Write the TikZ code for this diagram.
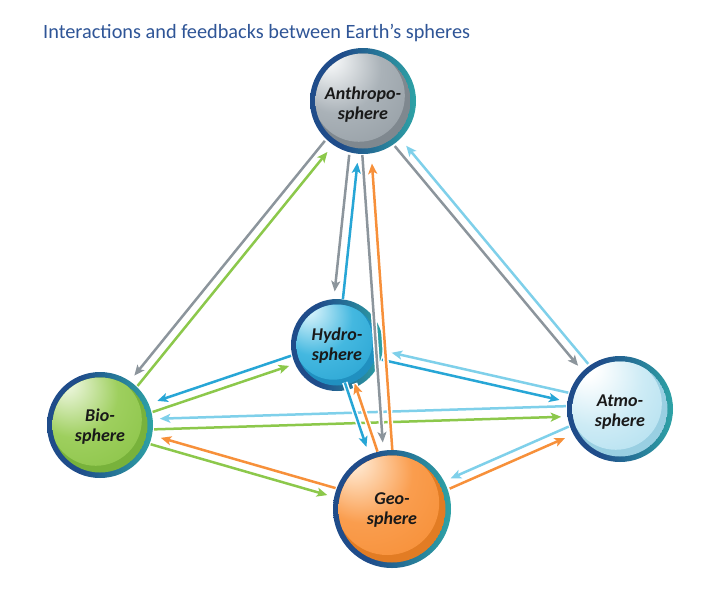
\documentclass[tikz,border=0pt]{standalone}
\usepackage{fontspec}
\setmainfont{Carlito}
\usetikzlibrary{arrows.meta,calc}

\definecolor{titleblue}{HTML}{2F5597}
\definecolor{rimL}{HTML}{1F4C8A}
\definecolor{rimR}{HTML}{2EA3A6}
\definecolor{cgrey}{HTML}{8C959C}
\definecolor{cgreen}{HTML}{8CC84B}
\definecolor{cblue}{HTML}{27A6D6}
\definecolor{clblue}{HTML}{7FD0EA}
\definecolor{corange}{HTML}{F7903A}
% sphere colours
\definecolor{hiA}{HTML}{F4F6F7}\definecolor{midA}{HTML}{AAB2B8}\definecolor{baseA}{HTML}{8F989F}\definecolor{darkA}{HTML}{7F888F}
\definecolor{hiH}{HTML}{D2F1FA}\definecolor{midH}{HTML}{44B8E0}\definecolor{baseH}{HTML}{229FCF}\definecolor{darkH}{HTML}{2090C0}
\definecolor{hiB}{HTML}{EAF5D9}\definecolor{midB}{HTML}{9ECF5E}\definecolor{baseB}{HTML}{86C142}\definecolor{darkB}{HTML}{78B23B}
\definecolor{hiG}{HTML}{FFE6CC}\definecolor{midG}{HTML}{FA9D4E}\definecolor{baseG}{HTML}{F58B30}\definecolor{darkG}{HTML}{E27C24}
\definecolor{hiT}{HTML}{FFFFFF}\definecolor{midT}{HTML}{CDEBF5}\definecolor{baseT}{HTML}{A9DCEE}\definecolor{darkT}{HTML}{99CFE2}

\pgfdeclarehorizontalshading{rim}{100bp}{color(0bp)=(rimL); color(40bp)=(rimL); color(75bp)=(rimR); color(100bp)=(rimR)}
\pgfdeclareradialshading{shA}{\pgfpoint{-18bp}{22bp}}{color(0bp)=(hiA); color(4bp)=(hiA); color(24bp)=(midA); color(50bp)=(baseA); color(70bp)=(baseA)}
\pgfdeclareradialshading{shH}{\pgfpoint{-18bp}{22bp}}{color(0bp)=(hiH); color(4bp)=(hiH); color(24bp)=(midH); color(50bp)=(baseH); color(70bp)=(baseH)}
\pgfdeclareradialshading{shB}{\pgfpoint{-18bp}{22bp}}{color(0bp)=(hiB); color(4bp)=(hiB); color(24bp)=(midB); color(50bp)=(baseB); color(70bp)=(baseB)}
\pgfdeclareradialshading{shG}{\pgfpoint{-18bp}{22bp}}{color(0bp)=(hiG); color(4bp)=(hiG); color(24bp)=(midG); color(50bp)=(baseG); color(70bp)=(baseG)}
\pgfdeclareradialshading{shT}{\pgfpoint{-18bp}{22bp}}{color(0bp)=(hiT); color(6bp)=(hiT); color(26bp)=(midT); color(50bp)=(baseT); color(70bp)=(baseT)}

\newcommand\sphere[8]{% name, x, y, R, shading, dark colour, text, text shift
  \shade[shading=rim] (#2,#3) circle (#4);
  \begin{scope}
    \clip (#2,#3) circle ({#4-5.5});
    \fill[#6] (#2,#3) circle ({#4-5.5});
    \shade[shading=#5] ({#2-0.08*#4},{#3-0.1*#4}) circle ({0.97*(#4-5.5)});
  \end{scope}
  \node[sphlabel, minimum size={2*#4 pt}, text depth=0pt] (#1) at (#2,#3) {};
  \node[sphtext] (#1-text) at ([yshift=-#8pt]#1.center) {#7};
}
% [offset]{from}{to}{colour}{start shorten}{end shorten}
\newcommand\arr[6][4.5]{%
  \draw[halo, shorten <=#5pt, shorten >=#6pt]
    ($(#2.center)!#1pt!-90:(#3.center)$) -- ($(#3.center)!#1pt!90:(#2.center)$);
  \draw[arrline, draw=#4, shorten <=#5pt, shorten >=#6pt]
    ($(#2.center)!#1pt!-90:(#3.center)$) -- ($(#3.center)!#1pt!90:(#2.center)$);
}

\begin{document}
\begin{tikzpicture}[x=1pt,y=-1pt,
  sphlabel/.style={circle, inner sep=0pt},
  sphtext/.style={inner sep=0pt, align=center, text=black!90,
     font=\fontsize{18}{20}\selectfont\bfseries\itshape},
  arrline/.style={line width=2.5pt, -{Stealth[length=10.5pt,width=9pt,inset=2.5pt]}},
  halo/.style={draw=white, line width=5.5pt}]
\useasboundingbox (0,0) rectangle (720,598);
\fill[white] (0,0) rectangle (720,598);

\node[anchor=base west, inner sep=0pt, text=titleblue, font=\fontsize{20.3}{24}\selectfont]
  (title) at (43,38) {Interactions and feedbacks between Earth’s spheres};

\sphere{anthro}{363}{101}{53}{shA}{darkA}{Anthropo-\\sphere}{4}
\sphere{hydro}{337}{345}{46}{shH}{darkH}{Hydro-\\sphere}{1}
\sphere{bio}{100}{425}{53}{shB}{darkB}{Bio-\\sphere}{2}
\sphere{geo}{392}{509}{59}{shG}{darkG}{Geo-\\sphere}{1}
\sphere{atmo}{620}{409}{53}{shT}{darkT}{Atmo-\\sphere}{3}

% Bio <-> Atmo
\arr{atmo}{bio}{clblue}{54}{60}
\arr[6]{bio}{atmo}{cgreen}{54}{59}
% Hydro <-> Atmo
\arr{atmo}{hydro}{clblue}{54}{55}
\arr{hydro}{atmo}{cblue}{47}{61}
% Bio <-> Hydro
\arr{hydro}{bio}{cblue}{47}{62}
\arr{bio}{hydro}{cgreen}{54}{52}
% Bio <-> Geo
\arr{geo}{bio}{corange}{60}{62}
\arr{bio}{geo}{cgreen}{54}{66}
% Geo <-> Atmo
\arr{atmo}{geo}{clblue}{54}{66}
\arr{geo}{atmo}{corange}{61}{62}
% Anthro <-> Bio
\arr{anthro}{bio}{cgrey}{55}{60}
\arr{bio}{anthro}{cgreen}{54}{62}
% Anthro <-> Atmo
\arr{anthro}{atmo}{cgrey}{55}{60}
\arr{atmo}{anthro}{clblue}{55}{62}
% Anthro <-> Hydro
\arr[8]{anthro}{hydro}{cgrey}{55}{53}
\arr[1]{hydro}{anthro}{cblue}{46}{62}
% Hydro <-> Geo
\arr{hydro}{geo}{cblue}{38}{67}
\arr{geo}{hydro}{corange}{59}{42}
% Anthro <-> Geo
\arr{anthro}{geo}{cgrey}{54}{67}
\arr{geo}{anthro}{corange}{59}{63}
\end{tikzpicture}
\end{document}
